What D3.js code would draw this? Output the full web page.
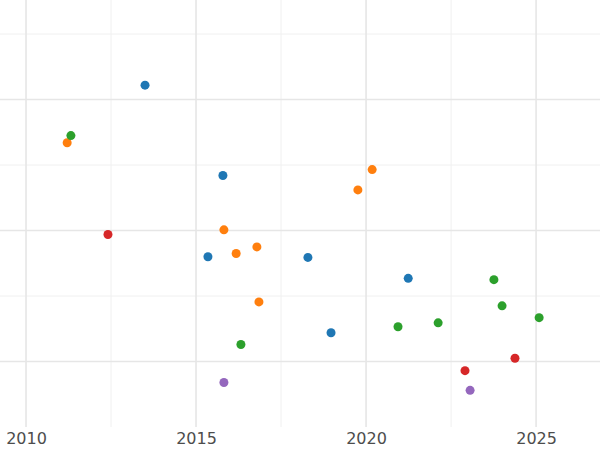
<!DOCTYPE html>
<html><head><meta charset="utf-8">
<script src="https://cdn.jsdelivr.net/npm/d3@7"></script>
<style>body{margin:0;background:#fff}svg{display:block}</style>
</head><body>
<svg id="c" width="600" height="450"></svg>
<script>
const groups = ["A","B","C","D","E"];
const colors = ["#1f77b4","#ff7f0e","#2ca02c","#d62728","#9467bd"];
const xs = [
  [2013.50,2015.79,2015.35,2018.29,2021.24,2018.97],
  [2011.21,2020.18,2019.76,2015.82,2016.18,2016.79,2016.85],
  [2011.32,2023.76,2024.00,2025.09,2020.94,2022.12,2016.32],
  [2012.41,2022.91,2024.38],
  [2015.82,2023.06]
];
const ys = [
  [5.22,3.84,2.60,2.59,2.27,1.44],
  [4.34,3.93,3.62,3.01,2.65,2.75,1.91],
  [4.45,2.25,1.85,1.67,1.53,1.59,1.26],
  [2.94,0.86,1.05],
  [0.68,0.56]
];
const xTicks = [2010,2015,2020,2025];
const xMinor = [2012.5,2017.5,2022.5];
const yMajor = [1,3,5];
const yMinor = [2,4,6];

const svg = d3.select("#c");
const W=600, H=427;
const x = d3.scaleLinear().domain([2009.235, 2026.88]).range([0, W]);
const y = d3.scaleLinear().domain([0.0, 6.52]).range([H, 0]);

svg.append("g").selectAll("line").data(yMinor).join("line")
  .attr("x1",0).attr("x2",W).attr("y1",d=>y(d)).attr("y2",d=>y(d))
  .attr("stroke","#f0f0f0").attr("stroke-width",1);
svg.append("g").selectAll("line").data(xMinor).join("line")
  .attr("y1",0).attr("y2",H).attr("x1",d=>x(d)).attr("x2",d=>x(d))
  .attr("stroke","#f0f0f0").attr("stroke-width",1);
svg.append("g").selectAll("line").data(yMajor).join("line")
  .attr("x1",0).attr("x2",W).attr("y1",d=>y(d)).attr("y2",d=>y(d))
  .attr("stroke","#e6e6e6").attr("stroke-width",1.6);
svg.append("g").selectAll("line").data(xTicks).join("line")
  .attr("y1",0).attr("y2",H).attr("x1",d=>x(d)).attr("x2",d=>x(d))
  .attr("stroke","#e6e6e6").attr("stroke-width",1.6);

const ax = svg.append("g").attr("transform",`translate(0,${H})`)
  .call(d3.axisBottom(x).tickValues(xTicks).tickFormat(d3.format("d")).tickSize(0).tickPadding(6));
ax.select(".domain").remove();
ax.selectAll("text").attr("font-family","DejaVu Sans").attr("font-size",16).attr("fill","#4d4d4d");

groups.forEach((g,i)=>{
  svg.append("g").selectAll("circle").data(xs[i].map((v,j)=>[v,ys[i][j]])).join("circle")
    .attr("cx",d=>x(d[0])).attr("cy",d=>y(d[1])).attr("r",4.5).attr("fill",colors[i]);
});
</script>
</body></html>
